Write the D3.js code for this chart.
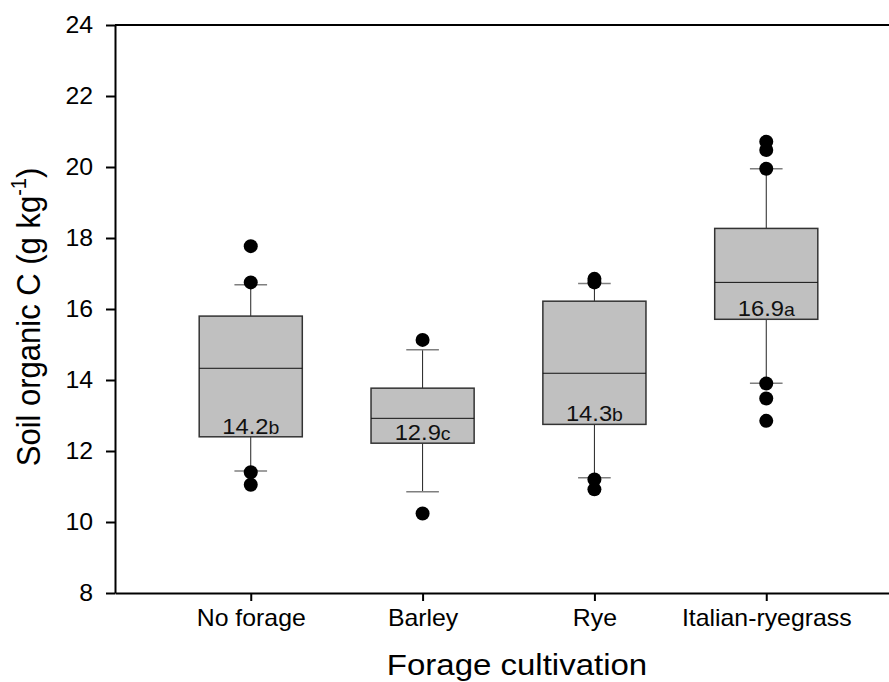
<!DOCTYPE html>
<html lang="en">
<head>
    <meta charset="UTF-8">
    <title>Soil organic C by forage cultivation</title>
    <script src="https://d3js.org/d3.v7.min.js"></script>
    <style>
        body { margin: 0; background: #fff; }
        svg { display: block; font-family: "Liberation Sans", Arial, sans-serif; }
        .axis path, .axis line { stroke: #000; stroke-width: 2; }
        .axis text { font-size: 23px; fill: #000; font-family: "Liberation Sans", Arial, sans-serif; }
    </style>
</head>
<body>
    <svg width="889" height="682"></svg>
    <script>
        // values
        var categories = ["No forage", "Barley", "Rye", "Italian-ryegrass"];
        var q1 = [12.40, 12.22, 12.75, 15.71];
        var medians = [14.33, 12.92, 14.19, 16.75];
        var q3 = [15.80, 13.77, 16.22, 18.27];
        var whiskerLow = [11.44, 10.85, 11.25, 13.91];
        var whiskerHigh = [16.68, 14.85, 16.72, 19.95];
        var outliers = [
            [17.77, 16.75, 11.40, 11.05],
            [15.13, 10.24],
            [16.85, 16.75, 11.20, 10.92],
            [20.71, 20.48, 19.95, 13.90, 13.48, 12.85]
        ];
        var meanLabels = ["14.2", "12.9", "14.3", "16.9"];
        var letters = ["b", "c", "b", "a"];
        var yTicks = [8, 10, 12, 14, 16, 18, 20, 22, 24];

        var plotLeft = 115, plotRight = 902, plotTop = 25, plotBottom = 593;
        var stretch = "scale(1.08,1)";   // the original text is a little wide

        var svg = d3.select("svg");

        var x = d3.scalePoint().domain(categories).range([plotLeft, plotRight]).padding(0.79);
        var y = d3.scaleLinear().domain([8, 24]).range([plotBottom, plotTop]);

        var boxW = x.step() * 0.6;
        var capW = x.step() * 0.19;

        var rows = categories.map(function(c, i) {
            return {
                name: c, q1: q1[i], med: medians[i], q3: q3[i],
                lo: whiskerLow[i], hi: whiskerHigh[i],
                out: outliers[i], mean: meanLabels[i], letter: letters[i]
            };
        });

        var g = svg.append("g");

        var box = g.selectAll(".box")
            .data(rows)
            .enter()
            .append("g")
            .attr("class", "box")
            .attr("transform", d => "translate(" + x(d.name) + ",0)");

        // whiskers
        box.append("line")
            .attr("x1", 0).attr("x2", 0)
            .attr("y1", d => y(d.q3)).attr("y2", d => y(d.hi))
            .attr("stroke", "#222").attr("stroke-width", 1);
        box.append("line")
            .attr("x1", 0).attr("x2", 0)
            .attr("y1", d => y(d.q1)).attr("y2", d => y(d.lo))
            .attr("stroke", "#222").attr("stroke-width", 1);

        // caps
        box.append("line")
            .attr("x1", -capW / 2).attr("x2", capW / 2)
            .attr("y1", d => y(d.hi)).attr("y2", d => y(d.hi))
            .attr("stroke", "#7f7f7f").attr("stroke-width", 1.5);
        box.append("line")
            .attr("x1", -capW / 2).attr("x2", capW / 2)
            .attr("y1", d => y(d.lo)).attr("y2", d => y(d.lo))
            .attr("stroke", "#7f7f7f").attr("stroke-width", 1.5);

        // box
        box.append("rect")
            .attr("x", -boxW / 2)
            .attr("width", boxW)
            .attr("y", d => y(d.q3))
            .attr("height", d => y(d.q1) - y(d.q3))
            .attr("fill", "#c0c0c0")
            .attr("stroke", "#333")
            .attr("stroke-width", 1.5);

        // median
        box.append("line")
            .attr("x1", -boxW / 2).attr("x2", boxW / 2)
            .attr("y1", d => y(d.med)).attr("y2", d => y(d.med))
            .attr("stroke", "#111").attr("stroke-width", 1);

        // outliers
        box.selectAll("circle")
            .data(d => d.out)
            .enter()
            .append("circle")
            .attr("cx", 0)
            .attr("cy", d => y(d))
            .attr("r", 7)
            .attr("fill", "#000");

        // mean + letter labels
        var lab = box.append("text")
            .attr("x", 0)
            .attr("y", d => y(d.q1) - 3)
            .attr("transform", stretch)
            .attr("text-anchor", "middle")
            .attr("fill", "#111");
        lab.append("tspan").style("font-size", "22px").text(d => d.mean);
        lab.append("tspan").style("font-size", "18px").text(d => d.letter);

        // axes
        var yAxis = svg.append("g")
            .attr("class", "axis")
            .attr("transform", "translate(" + plotLeft + ",0)")
            .call(d3.axisLeft(y).tickValues(yTicks).tickFormat(d3.format("d"))
                .tickSize(9).tickPadding(13).tickSizeOuter(0));
        yAxis.selectAll("text")
            .attr("x", 0)
            .attr("transform", "translate(-22,0) " + stretch);

        var xAxis = svg.append("g")
            .attr("class", "axis")
            .attr("transform", "translate(0," + plotBottom + ")")
            .call(d3.axisBottom(x).tickSize(8).tickPadding(9).tickSizeOuter(0));
        xAxis.selectAll("text").attr("transform", stretch);

        // top frame line
        svg.append("line")
            .attr("x1", plotLeft).attr("x2", plotRight)
            .attr("y1", y(24)).attr("y2", y(24))
            .attr("stroke", "#000").attr("stroke-width", 2);

        // axis titles
        svg.append("text")
            .attr("transform", "translate(517,675) scale(1.1,1)")
            .attr("text-anchor", "middle")
            .style("font-size", "30px")
            .text("Forage cultivation");

        var yt = svg.append("text")
            .attr("transform", "translate(40," + ((plotTop + plotBottom) / 2 + 8) + ") " + stretch + " rotate(-90)")
            .attr("text-anchor", "middle")
            .style("font-size", "31px");
        yt.append("tspan").text("Soil organic C (g kg");
        yt.append("tspan").attr("dy", -13).style("font-size", "20px").text("-1");
        yt.append("tspan").attr("dy", 13).text(")");
    </script>
</body>
</html>
